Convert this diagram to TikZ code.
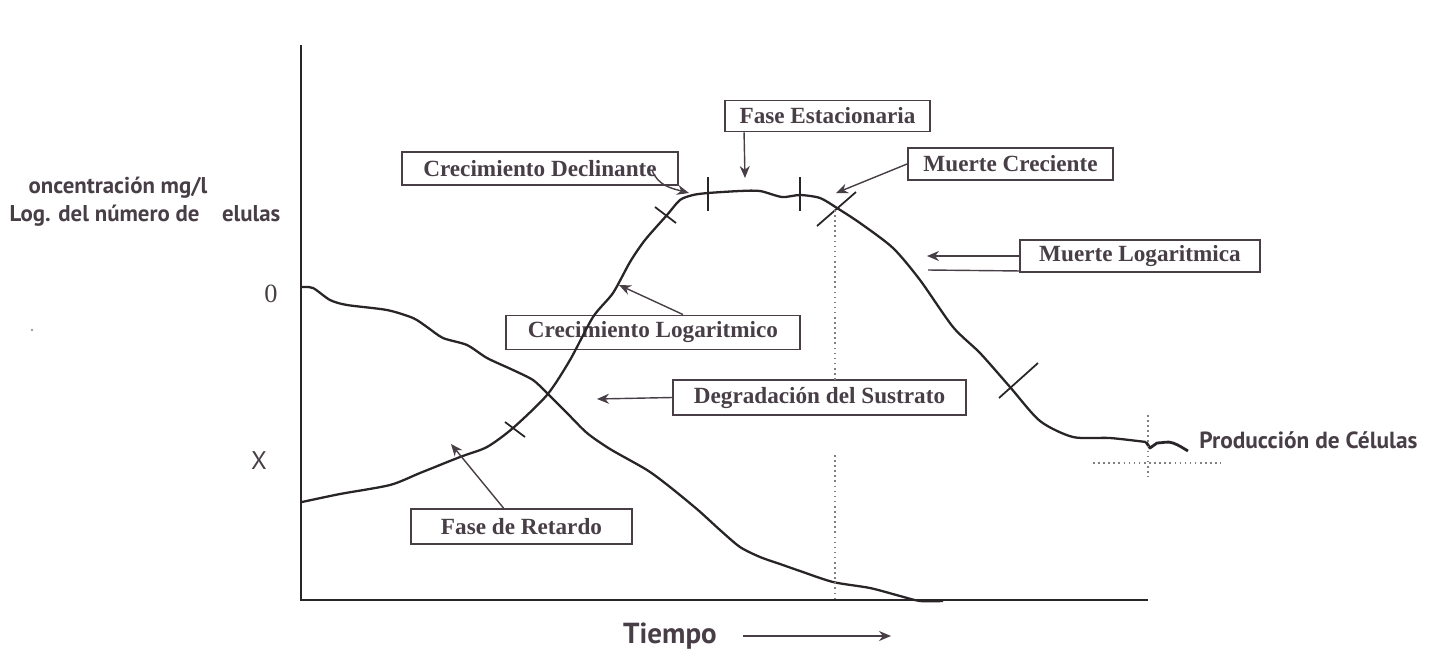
\documentclass[tikz,border=0pt]{standalone}
\usepackage{fontspec}
\setmainfont{Liberation Serif}
\newfontfamily\humsans{PT Sans}
\usetikzlibrary{positioning,calc,arrows.meta}

\definecolor{ink}{RGB}{72,62,70}
\definecolor{pen}{RGB}{40,36,40}

\tikzset{
  phase/.style={draw=ink, line width=1.1pt, text=ink, inner sep=0pt,
                font=\fontsize{13.2}{15}\selectfont\bfseries},
  axislabel/.style={text=ink, inner sep=0pt, font=\humsans\bfseries},
  pointer/.style={draw=ink, line width=0.8pt, -{Stealth[length=2.4mm,width=2mm]}},
  curve/.style={draw=pen, line width=1.3pt, line join=round},
  tickmark/.style={draw=pen, line width=1pt},
  guide/.style={draw=gray, line width=0.9pt, dotted}
}

\begin{document}
\begin{tikzpicture}[x=0.02cm, y=-0.02cm]
    \useasboundingbox (0,0) rectangle (1438,657);

    %Axes
    \draw[draw=pen, line width=1.4pt] (301,45) -- (301,600) -- (1148,600);

    %Nodes
    \node[phase, minimum width=5.52cm, minimum height=0.66cm] at (540,168.5)  (decl)  {Crecimiento Declinante};
    \node[phase, minimum width=4.1cm,  minimum height=0.62cm] at (827.5,116)  (estac) {Fase Estacionaria};
    \node[phase, minimum width=4.1cm,  minimum height=0.64cm] at (1010.5,164) (mcrec) {Muerte Creciente};
    \node[phase, minimum width=4.8cm,  minimum height=0.64cm] at (1140,256)   (mlog)  {Muerte Logaritmica};
    \node[phase, minimum width=5.88cm, minimum height=0.68cm] at (653,332.5)  (clog)  {Crecimiento Logaritmico};
    \node[phase, minimum width=5.86cm, minimum height=0.7cm]  at (819.5,397.5)(degr)  {Degradación del Sustrato};
    \node[phase, minimum width=4.42cm, minimum height=0.7cm]  at (521.5,526.5)(retar) {Fase de Retardo};

    \node[axislabel, font=\humsans\bfseries\fontsize{13}{15}\selectfont] at (118,188) (conc) {oncentración mg/l};
    \node[axislabel, font=\humsans\bfseries\fontsize{13}{15}\selectfont] at (145,216) (lognum) {Log. del número de\hspace{0.45cm}elulas};
    \node[text=ink, inner sep=0pt, font=\fontsize{15}{17}\selectfont] at (271,294) (szero) {0};
    \node[text=ink, inner sep=0pt, font=\humsans\fontsize{14.5}{16}\selectfont] at (259,461) (xzero) {X};
    \node[axislabel, font=\humsans\bfseries\fontsize{16.5}{18}\selectfont] at (670,636) (tiempo) {Tiempo};
    \node[axislabel, font=\humsans\bfseries\fontsize{13.3}{15}\selectfont, anchor=west] at (1199,440) (prod) {Producción de Células};
    \fill[gray] (32,330) circle (1.2);

    %Substrate
    \draw[curve] plot[smooth, tension=0.45] coordinates {
      (301,287) (313,288) (330,300) (347,305) (387,310) (413,318) (427,327)
      (443,338) (467,345) (487,358) (513,370) (533,380) (547,393) (567,413)
      (587,433) (610,449) (647,470) (670,487) (698,510) (720,530) (740,547)
      (760,557) (780,564) (800,571) (833,582) (870,588) (900,596) (920,601) (943,601)};

    %Cells
    \draw[curve] plot[smooth, tension=0.45] coordinates {
      (302,502) (340,494) (390,485) (420,473) (460,457) (487,447) (513,428)
      (547,395) (570,360) (593,317) (613,293) (630,262) (645,240) (667,215)
      (680,200) (693,195) (708,193) (740,191) (760,191) (782,197) (800,195)
      (820,198) (837,208) (860,223) (893,248) (920,280) (953,327) (980,353)
      (1010,387) (1040,421) (1073,437) (1110,438) (1146,442)};
    \draw[curve, line width=1.6pt] (1146,442) -- (1150,448) -- (1157,443)
      to[out=0, in=160] (1173,443) to[out=-20, in=150] (1188,451);

    %Marks on the curve
    \draw[tickmark] (505,422) -- (525,437);
    \draw[tickmark] (655,207) -- (676,223);
    \draw[tickmark] (708,177) -- (708,211);
    \draw[tickmark] (800,177) -- (800,211);
    \draw[tickmark] (817,226) -- (856,192);
    \draw[tickmark] (999,398) -- (1038,363);

    %Guides
    \draw[guide] (835,210) -- (835,380);
    \draw[guide] (835,455) -- (835,600);
    \draw[guide] (1148,415) -- (1148,477);
    \draw[guide] (1093,463) -- (1221,463);

    %Arrows
    \coordinate (declE)  at (652,170);
    \coordinate (declT)  at (689,193);
    \coordinate (estacT) at (745,178);
    \coordinate (mcrecT) at (836,193);
    \coordinate (mlogT)  at (927,256);
    \coordinate (mlogL)  at (928,270);
    \coordinate (clogT)  at (619,285);
    \coordinate (degrT)  at (597,399);
    \coordinate (retarT) at (451,444);
    \coordinate (t0)     at (743,636);
    \coordinate (t1)     at (891,636);

    \draw[pointer] (declE) to[out=-70, in=165] (declT);
    \draw[pointer] ($(estac.south west)+(20,0)$) -- (estacT);
    \draw[pointer] (mcrec.west) -- (mcrecT);
    \draw[pointer] (mlog.west) -- (mlogT);
    \draw[draw=ink, line width=0.8pt] (mlogL) -- ($(mlog.south west)+(0,-2)$);
    \draw[pointer] ($(clog.north)+(30,0)$) -- (clogT);
    \draw[pointer] (degr.west) -- (degrT);
    \draw[pointer] ($(retar.north)+(-18,0)$) -- (retarT);
    \draw[pointer, line width=0.9pt] (t0) -- (t1);
\end{tikzpicture}
\end{document}
